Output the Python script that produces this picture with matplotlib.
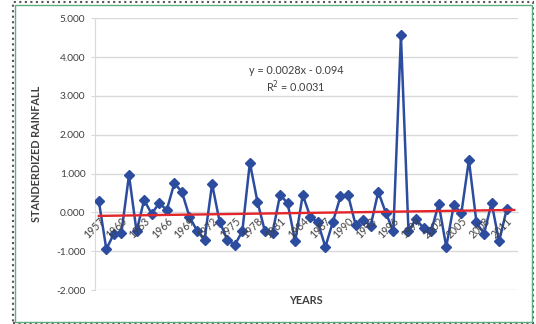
import numpy as np
import matplotlib
matplotlib.use("Agg")
import matplotlib.pyplot as plt
from matplotlib.patches import Rectangle

# standardized rainfall, one value per year 1957-2011
years = list(range(1957, 2012))
rainfall = [
    0.30, -0.95, -0.55, -0.52, 0.96, -0.49, 0.32, -0.04, 0.24, 0.06,
    0.75, 0.53, -0.11, -0.47, -0.71, 0.73, -0.24, -0.70, -0.84, -0.49,
    1.28, 0.28, -0.49, -0.53, 0.45, 0.24, -0.75, 0.45, -0.11, -0.26,
    -0.89, -0.24, 0.41, 0.45, -0.32, -0.19, -0.34, 0.53, -0.01, -0.49,
    4.56, -0.49, -0.17, -0.41, -0.49, 0.22, -0.89, 0.19, -0.02, 1.35,
    -0.26, -0.55, 0.24, -0.75, 0.08,
]
year_labels = years[::3]
y_ticks = [-2, -1, 0, 1, 2, 3, 4, 5]

# linear trend as printed on the chart (x = category index starting at 1)
SLOPE = 0.0028
INTERCEPT = -0.094
trend_x = [1957, 2012]

BLUE = "#2C4C9F"
RED = "#E3262B"
GRID = "#D9D9D9"
TXT = "#404040"
FONT = "Lato"

fig = plt.figure(figsize=(5.36, 3.24), dpi=100)
ax = fig.add_axes([95 / 536, 1 - 290 / 324, (518 - 95) / 536, (290 - 18.3) / 324])

# x axis crosses at zero, as in the excel chart (set before tick labels)
ax.spines["bottom"].set_position(("data", 0))
ax.spines["bottom"].set_color(GRID)
ax.spines["left"].set_color(GRID)
ax.spines["top"].set_visible(False)
ax.spines["right"].set_visible(False)

ax.plot(years, rainfall, color=BLUE, lw=1.8, marker="D", markersize=5.2, zorder=3)

tx = np.array(trend_x)
ty = SLOPE * (tx - (years[0] - 1)) + INTERCEPT
ax.plot(tx, ty, color=RED, lw=1.7, zorder=4)

ax.set_xlim(years[0] - 0.5, 2012.5)
ax.set_ylim(-2, 5)
ax.set_yticks(y_ticks)
ax.set_yticklabels([f"{v:.3f}" for v in y_ticks], fontsize=7.3, color=TXT, family=FONT)
ax.yaxis.grid(True, color=GRID, lw=1)
ax.set_axisbelow(True)

ax.set_xticks(year_labels)
ax.set_xticklabels([str(y) for y in year_labels], rotation=45, ha="right", va="top",
                   rotation_mode="anchor", fontsize=7.6, color=TXT, family=FONT)
ax.tick_params(axis="x", length=0, pad=2)
ax.tick_params(axis="y", length=3, color=GRID, pad=4)
# year labels sit on top of the data line
ax.xaxis.set_zorder(5)

ax.set_ylabel("STANDERDIZED RAINFALL", fontsize=7.8, fontweight="bold", color=TXT,
              family=FONT, labelpad=10)
fig.text(306 / 536, 1 - 301 / 324, "YEARS", ha="center", va="center", fontsize=7.8,
         fontweight="bold", color=TXT, family=FONT)

fig.text(296 / 536, 1 - 71 / 324, "y = 0.0028x - 0.094", ha="center", va="center",
         fontsize=7.8, color=TXT, family=FONT)
fig.text(296 / 536, 1 - 87 / 324, "R$^2$ = 0.0031", ha="center", va="center",
         fontsize=7.8, color=TXT, family=FONT)

# chart frame
fig.add_artist(Rectangle((13 / 536, 1 / 324), 520 / 536, 321 / 324, transform=fig.transFigure,
                         fill=False, edgecolor="#555555", lw=1.5, linestyle=":"))
fig.add_artist(Rectangle((15 / 536, 2 / 324), 517 / 536, 317 / 324, transform=fig.transFigure,
                         fill=False, edgecolor="#5FAE82", lw=1))

fig.savefig("out.png", dpi=100)
